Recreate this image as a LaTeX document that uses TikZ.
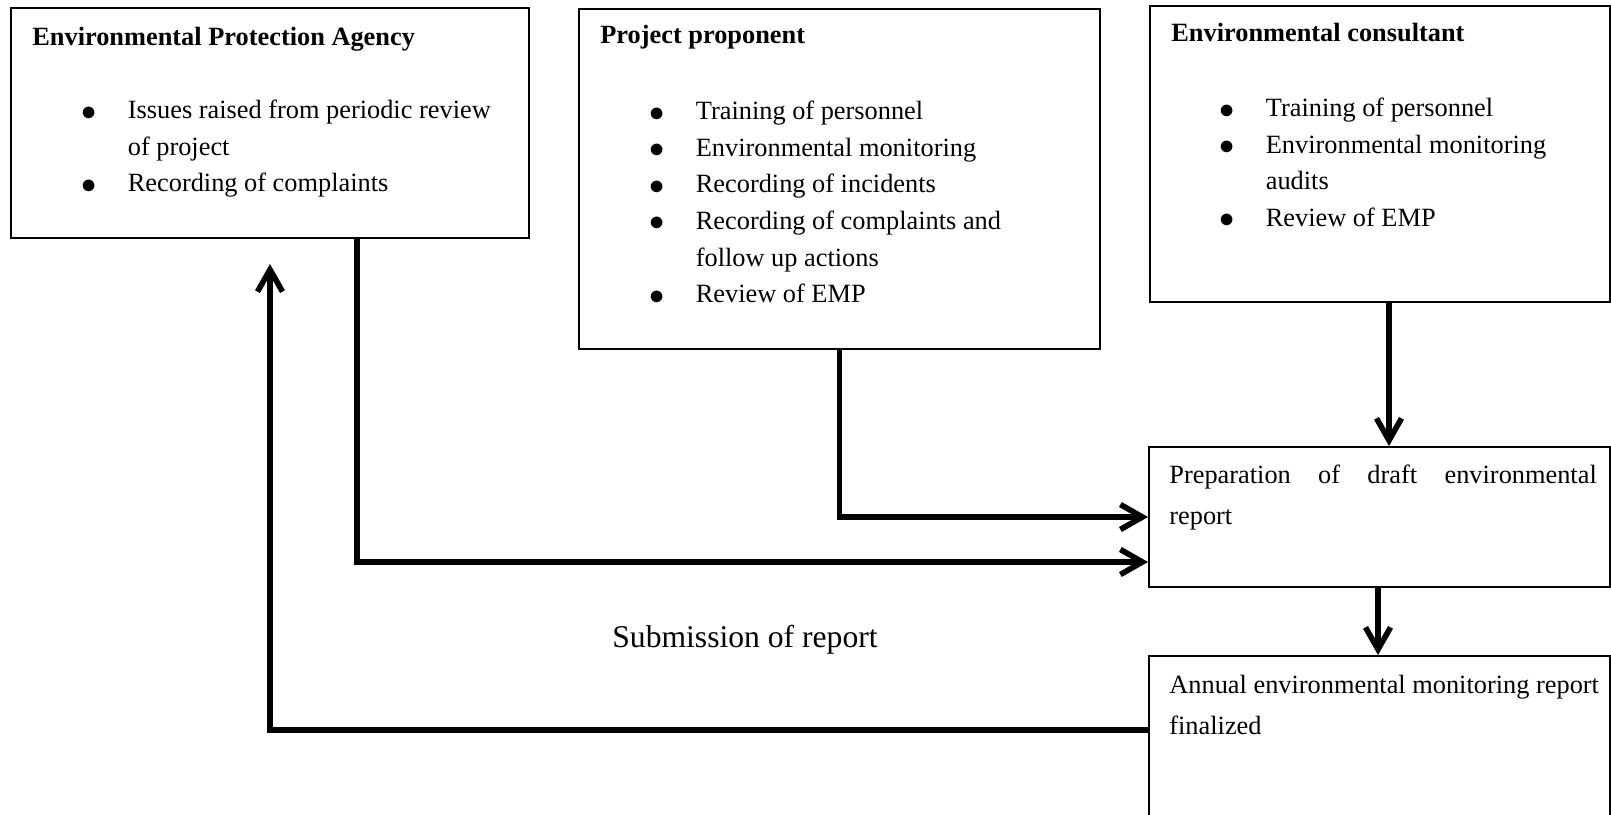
\documentclass[tikz,border=0pt]{standalone}
\usepackage{fontspec}
\setmainfont{Liberation Serif}
\usetikzlibrary{arrows.meta, positioning}

\newcommand{\bul}[1]{\makebox[0.93cm][l]{\raisebox{-0.8pt}{\fontsize{18}{20}\selectfont$\bullet$}}#1}
\newcommand{\cont}[1]{\hspace*{0.93cm}#1}

\begin{document}
\begin{tikzpicture}[
        x=0.02cm, y=-0.02cm,
        box/.style={rectangle, draw, line width=1.1pt, inner sep=0pt},
        head/.style={font=\fontsize{15}{18}\selectfont\bfseries, inner sep=0pt, anchor=base west},
        list/.style={font=\fontsize{15}{20.8}\selectfont, align=left, inner sep=0pt, anchor=north west},
        plain/.style={font=\fontsize{15}{23.3}\selectfont, align=left, inner sep=0pt, anchor=north west},
        arrow/.style={-{Straight Barb[length=0.44cm, width=0.5cm]}, line width=3.2pt}
    ]
        \useasboundingbox (0,0) rectangle (1611,814);

        % Top row
        \node[box, minimum width=10.36cm, minimum height=4.6cm] (epa) at (270,123) {};
        \node[box, minimum width=10.42cm, minimum height=6.8cm] (prop) at (839.5,179) {};
        \node[box, minimum width=9.2cm, minimum height=5.92cm] (cons) at (1380,154) {};

        % Right column
        \node[box, minimum width=9.22cm, minimum height=2.8cm] (draft) at (1379.5,517) {};
        \node[box, minimum width=9.22cm, minimum height=3.32cm] (annual) at (1379.5,739) {};

        % Titles
        \node[head] (epahead) at (32,46) {Environmental Protection Agency};
        \node[head] (prophead) at (600,44) {Project proponent};
        \node[head] (conshead) at (1171,42) {Environmental consultant};

        % Lists
        \node[list] (epalist) at (81,100) {\bul{Issues raised from periodic review}\\
            \cont{of project}\\
            \bul{Recording of complaints}};
        \node[list] (proplist) at (649,101) {\bul{Training of personnel}\\
            \bul{Environmental monitoring}\\
            \bul{Recording of incidents}\\
            \bul{Recording of complaints and}\\
            \cont{follow up actions}\\
            \bul{Review of EMP}};
        \node[list] (conslist) at (1219,98) {\bul{Training of personnel}\\
            \bul{Environmental monitoring}\\
            \cont{audits}\\
            \bul{Review of EMP}};

        % Report texts
        \node[plain] (drafttext) at (1169,465) {\makebox[8.55cm][s]{Preparation of draft environmental}\\
            report};
        \node[plain] (annualtext) at (1169,675) {Annual environmental monitoring report\\
            finalized};

        % Label
        \node[font=\fontsize{18}{22}\selectfont, inner sep=0pt] (submit) at (745,640) {Submission of report};

        % Arrows
        \draw[arrow] ([xshift=0.18cm]cons.south) -- ([xshift=0.18cm]cons.south |- draft.north);
        \draw[arrow] (prop.south) |- (draft.west);
        \draw[arrow] ([xshift=1.74cm]epa.south) |- ([yshift=-0.9cm]draft.west);
        \draw[arrow] ([xshift=-0.03cm]draft.south) -- ([xshift=-0.03cm]draft.south |- annual.north);
        \draw[arrow] ([yshift=0.18cm]annual.west) -| ([yshift=-0.5cm]epa.south);
    \end{tikzpicture}
\end{document}
